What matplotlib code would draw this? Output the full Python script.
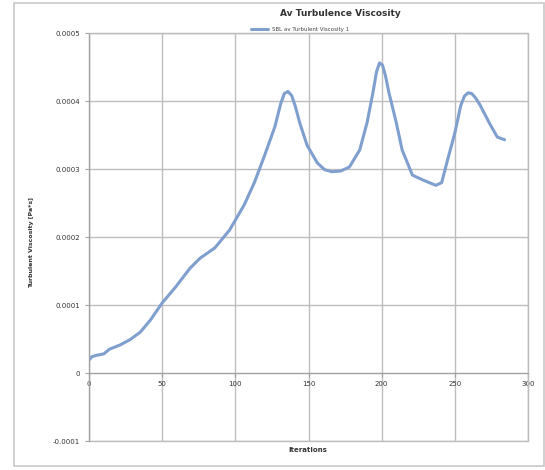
import numpy as np
import matplotlib.pyplot as plt
from matplotlib.patches import Rectangle

# averaged turbulent viscosity over the solver iterations
iterations = [0, 2, 5, 10, 14, 21, 28, 35, 42, 50, 59, 69, 76, 86, 96, 106, 113,
              120, 127, 131, 133.5, 136, 138.5, 141, 144, 149, 156, 161, 166, 172,
              178, 185, 190, 194, 196.5, 198.5, 200.5, 202.5, 205, 210, 214, 221,
              228, 237, 241, 245, 250, 254, 256.5, 259, 261.5, 264, 267, 273.5,
              279, 284]
viscosity = [0.000019, 0.000024, 0.000026, 0.000028, 0.000035, 0.000041,
             0.000049, 0.000060, 0.000078, 0.000103, 0.000126, 0.000154,
             0.000169, 0.000184, 0.000210, 0.000247, 0.000280, 0.000320,
             0.000362, 0.000396, 0.000411, 0.000414, 0.000408, 0.000392,
             0.000368, 0.000335, 0.000309, 0.000299, 0.000296, 0.000297,
             0.000303, 0.000328, 0.000368, 0.000412, 0.000443, 0.000456,
             0.000453, 0.000438, 0.000412, 0.000368, 0.000328, 0.000291,
             0.000284, 0.000276, 0.000280, 0.000313, 0.000353, 0.000393,
             0.000407, 0.000412, 0.000411, 0.000405, 0.000395, 0.000368,
             0.000347, 0.000343]

xticks = [0, 50, 100, 150, 200, 250, 300]
yticks = [-0.0001, 0, 0.0001, 0.0002, 0.0003, 0.0004, 0.0005]
ytick_labels = ['-0.0001', '0', '0.0001', '0.0002', '0.0003', '0.0004', '0.0005']

fig = plt.figure(figsize=(5.45, 4.7), dpi=100)
fig.patches.append(Rectangle((14/545, 1-466/470), 530/545, 463/470,
                             transform=fig.transFigure, fill=False,
                             edgecolor='#c8c8c8', linewidth=1.2))

ax = fig.add_axes([89/545, 1-441/470, 439/545, 408/470])
ax.plot(iterations, viscosity, color='#7f9fcf', linewidth=2.2,
        solid_joinstyle='round', solid_capstyle='round',
        label='SBL av Turbulent Viscosity 1')

ax.set_xlim(0, 300)
ax.set_ylim(-0.0001, 0.0005)
ax.set_xticks(xticks)
ax.set_xticklabels([str(t) for t in xticks])
ax.set_yticks(yticks)
ax.set_yticklabels(ytick_labels)
ax.grid(True, color='#bdbdbd', linewidth=1.0)
ax.set_axisbelow(True)

for s in ['top', 'right', 'left']:
    ax.spines[s].set_color('#bdbdbd')
ax.spines['left'].set_color('#a0a0a0')
ax.spines['bottom'].set_position(('data', 0))
ax.spines['bottom'].set_color('#a0a0a0')
ax.add_patch(Rectangle((0, 0), 1, 1, transform=ax.transAxes, fill=False,
                       edgecolor='#bdbdbd', linewidth=1.0, clip_on=False))

ax.tick_params(axis='both', labelsize=5, colors='#a0a0a0', labelcolor='#333333',
               length=3, width=0.8)
ax.tick_params(axis='x', direction='out', pad=3)

fig.text(340/545, 1-14/470, 'Av Turbulence Viscosity', ha='center', va='center',
         fontsize=6.5, fontweight='bold', color='#333333')
ax.legend(loc='center', bbox_to_anchor=(300/545, 1-29/470),
          bbox_transform=fig.transFigure, frameon=False, fontsize=4,
          handlelength=3, borderpad=0, labelcolor='#444444')
fig.text(32/545, 1-243/470, 'Turbulent Viscosity [Pa*s]', rotation=90,
         ha='center', va='center', fontsize=4.5, fontweight='bold', color='#333333')
fig.text(308/545, 1-450/470, 'Iterations', ha='center', va='center',
         fontsize=5, fontweight='bold', color='#333333')

plt.savefig('out.png', dpi=100)
